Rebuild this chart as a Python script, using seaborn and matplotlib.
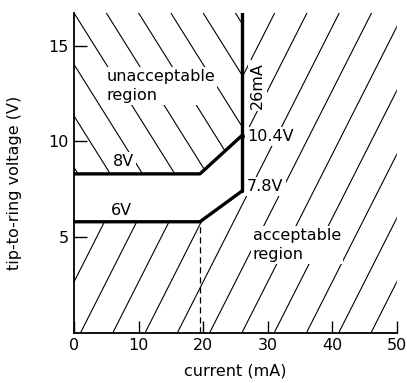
import matplotlib
matplotlib.use("Agg")
import matplotlib.pyplot as plt
from matplotlib.patches import Polygon
import numpy as np
import seaborn as sns
import pandas as pd

# data
knee_current = [0, 19.5, 26]          # mA
upper_voltage = [8.3, 8.3, 10.3]      # V  (8V ... 10.4V line)
lower_voltage = [5.8, 5.8, 7.4]       # V  (6V ... 7.8V line)
limit_current = 26                    # mA
limit_top = 16.7
xticks = [0, 10, 20, 30, 40, 50]
yticks = [5, 10, 15]

sns.set_style("ticks")
plt.rcParams['font.family'] = ['DejaVu Sans']
plt.rcParams['font.size'] = 11.5
plt.rcParams['text.color'] = 'black'
plt.rcParams['axes.labelcolor'] = 'black'

fig = plt.figure(figsize=(4.07, 3.83), dpi=100)
ax = fig.add_axes([0.182, 0.131, 0.793, 0.835])
ax.set_xlim(0, 50)
ax.set_ylim(0, limit_top)

# regions for hatching
unacc = Polygon([(knee_current[0], upper_voltage[0]), (knee_current[1], upper_voltage[1]),
                 (knee_current[2], upper_voltage[2]), (limit_current, limit_top), (0, limit_top)],
                closed=True, fill=False, edgecolor='none', transform=ax.transData)
acc = Polygon([(0, 0), (50, 0), (50, limit_top), (limit_current, limit_top),
               (knee_current[2], lower_voltage[2]), (knee_current[1], lower_voltage[1]),
               (knee_current[0], lower_voltage[0])],
              closed=True, fill=False, edgecolor='none', transform=ax.transData)
ax.add_patch(unacc)
ax.add_patch(acc)

# hand-drawn style hatching (spacing 5 mA)
xs = np.array([-40, 90])
for c in np.arange(-39, 55, 5):
    ln, = ax.plot(xs, 0.666 * (xs - c), color='black', lw=0.8)
    ln.set_clip_path(acc)
for c in np.arange(-40, 55, 5):
    ln, = ax.plot(xs, limit_top - 0.538 * (xs - c), color='black', lw=0.8)
    ln.set_clip_path(unacc)

# boundaries
df = pd.DataFrame({'i': knee_current, 'up': upper_voltage, 'lo': lower_voltage})
sns.lineplot(data=df, x='i', y='up', sort=False, estimator=None, color='black', lw=2.4, ax=ax)
sns.lineplot(data=df, x='i', y='lo', sort=False, estimator=None, color='black', lw=2.4, ax=ax)
sns.lineplot(x=[limit_current, limit_current], y=[lower_voltage[2], limit_top],
             sort=False, estimator=None, color='black', lw=2.4, ax=ax)
ax.plot([knee_current[1], knee_current[1]], [0, lower_voltage[1]],
        color='black', lw=0.9, ls=(0, (5, 3)))

bb = dict(facecolor='white', edgecolor='none', pad=1.5)
ax.text(5.0, 12.9, 'unacceptable\nregion', ha='left', va='center', linespacing=1.35, bbox=bb)
ax.text(7.6, 8.95, '8V', ha='center', va='center', bbox=bb)
ax.text(7.4, 6.4, '6V', ha='center', va='center')
ax.text(28.4, 12.9, '26mA', rotation=90, ha='center', va='center', bbox=bb)
ax.text(26.8, 10.25, '10.4V', ha='left', va='center', bbox=bb)
ax.text(26.8, 7.65, '7.8V', ha='left', va='center', bbox=bb)
ax.text(27.7, 4.6, 'acceptable\nregion', ha='left', va='center', linespacing=1.35, bbox=bb)

ax.set_xticks(xticks)
ax.set_yticks(yticks)
ax.tick_params(direction='in', length=9, width=1, colors='black', pad=4)
for s in ['top', 'right']:
    ax.spines[s].set_visible(False)
for s in ['left', 'bottom']:
    ax.spines[s].set_linewidth(1.3)
    ax.spines[s].set_color('black')
ax.set_xlabel('current (mA)', labelpad=7)
ax.set_ylabel('tip-to-ring voltage (V)')
ax.yaxis.set_label_coords(-0.16, 0.47)

fig.savefig('out.png', dpi=100)
